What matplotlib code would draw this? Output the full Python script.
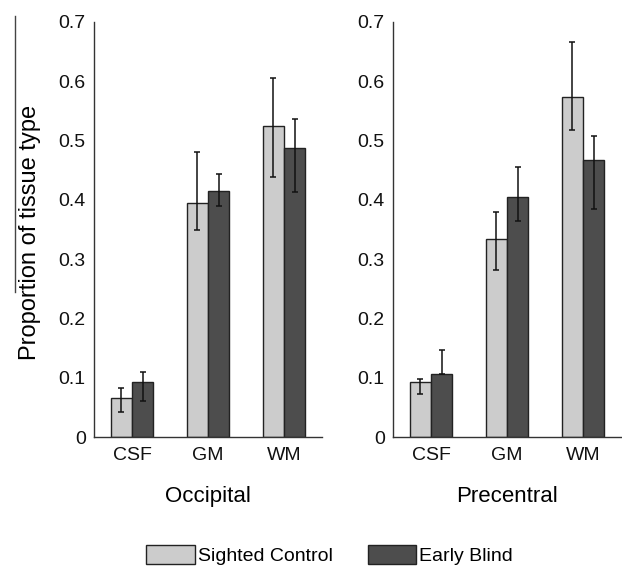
import numpy as np
import matplotlib
matplotlib.use('Agg')
import matplotlib.pyplot as plt
from matplotlib.patches import Patch
from matplotlib.lines import Line2D

plt.rcParams['font.family'] = ['Liberation Sans', 'DejaVu Sans']

# tissue categories and regions
tissues = ['CSF', 'GM', 'WM']
regions = ['Occipital', 'Precentral']
groups = ['Sighted Control', 'Early Blind']

# mean proportions
occ_sighted = [0.065, 0.395, 0.524]
occ_blind = [0.093, 0.415, 0.487]
pre_sighted = [0.092, 0.334, 0.573]
pre_blind = [0.107, 0.404, 0.467]

# error bar ends (low, high)
occ_sighted_lo = [0.042, 0.350, 0.438]
occ_sighted_hi = [0.083, 0.481, 0.605]
occ_blind_lo = [0.060, 0.390, 0.414]
occ_blind_hi = [0.109, 0.444, 0.536]
pre_sighted_lo = [0.073, 0.281, 0.518]
pre_sighted_hi = [0.097, 0.379, 0.666]
pre_blind_lo = [0.107, 0.364, 0.385]
pre_blind_hi = [0.147, 0.455, 0.508]

light = '#cccccc'
dark = '#4d4d4d'
edge = '#222222'

fig = plt.figure(figsize=(6.22, 5.67), dpi=100)
ax1 = fig.add_axes([94/622, 1-437/567, 228/622, 415/567])
ax2 = fig.add_axes([393/622, 1-437/567, 228/622, 415/567])

data = [
    (ax1, occ_sighted, occ_blind, occ_sighted_lo, occ_sighted_hi, occ_blind_lo, occ_blind_hi, regions[0]),
    (ax2, pre_sighted, pre_blind, pre_sighted_lo, pre_sighted_hi, pre_blind_lo, pre_blind_hi, regions[1]),
]

x = np.arange(1, len(tissues) + 1)
w = 0.28
for ax, s, b, slo, shi, blo, bhi, name in data:
    s = np.array(s); b = np.array(b)
    s_err = [s - np.array(slo), np.array(shi) - s]
    b_err = [b - np.array(blo), np.array(bhi) - b]
    ax.bar(x - w/2, s, w, color=light, edgecolor=edge, linewidth=1.0, zorder=2)
    ax.bar(x + w/2, b, w, color=dark, edgecolor=edge, linewidth=1.0, zorder=2)
    ax.errorbar(x - w/2, s, yerr=s_err, fmt='none', ecolor='#111111', elinewidth=1.1,
                capsize=2, capthick=1.1, zorder=3)
    ax.errorbar(x + w/2, b, yerr=b_err, fmt='none', ecolor='#111111', elinewidth=1.1,
                capsize=2, capthick=1.1, zorder=3)
    ax.set_xlim(0.5, 3.5)
    ax.set_ylim(0, 0.7)
    ax.set_yticks([0, 0.1, 0.2, 0.3, 0.4, 0.5, 0.6, 0.7])
    ax.set_yticklabels(['0', '0.1', '0.2', '0.3', '0.4', '0.5', '0.6', '0.7'])
    ax.set_xticks(x)
    ax.set_xticklabels(tissues)
    ax.tick_params(axis='both', length=0, labelsize=14, colors='#111111')
    ax.tick_params(axis='y', pad=6)
    ax.tick_params(axis='x', pad=7)
    for sp in ['top', 'right']:
        ax.spines[sp].set_visible(False)
    for sp in ['left', 'bottom']:
        ax.spines[sp].set_color('#333333')
        ax.spines[sp].set_linewidth(1.0)
    ax.set_xlabel(name, fontsize=16, labelpad=16)

fig.text(30/622, 1-232/567, 'Proportion of tissue type', rotation=90,
         ha='center', va='center', fontsize=17)

# stray vertical line at the far left of the original figure
fig.add_artist(Line2D([15/622, 15/622], [1-16/567, 1-292/567], color='#444444', lw=1.0))

handles = [Patch(facecolor=light, edgecolor=edge, linewidth=1.0),
           Patch(facecolor=dark, edgecolor=edge, linewidth=1.0)]
fig.legend(handles, groups, loc='center', bbox_to_anchor=(0.53, 1-555/567), ncol=2,
           frameon=False, fontsize=14, handlelength=2.5, handleheight=1.1,
           handletextpad=0.15, columnspacing=1.8, borderpad=0.1)

fig.savefig('out.png', dpi=100)
